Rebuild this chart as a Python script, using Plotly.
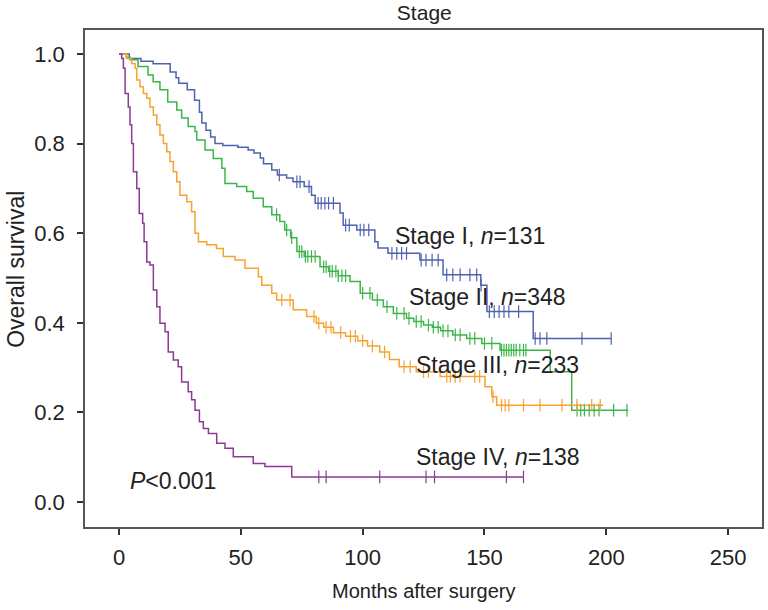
import plotly.graph_objects as go

# ---------------- data ----------------
stage1_t = [0, 4.2, 9, 14, 21, 23.4, 24.5, 28, 31, 33, 34, 35.7, 37.6, 39.4, 42.6, 48.8, 53, 55.4, 58,
            59.3, 62.7, 65, 68.8, 71.4, 76, 79, 80.5, 90.7, 92, 97.6, 105, 106.3, 110.4, 123.5, 133,
            148.5, 151, 170, 202]
stage1_s = [1.0, 0.99, 0.984, 0.978, 0.96, 0.947, 0.935, 0.92, 0.897, 0.87, 0.846, 0.83, 0.815, 0.80,
            0.796, 0.792, 0.786, 0.779, 0.768, 0.755, 0.741, 0.730, 0.723, 0.715, 0.704, 0.685, 0.667,
            0.645, 0.618, 0.607, 0.581, 0.567, 0.555, 0.540, 0.507, 0.484, 0.425, 0.365, 0.365]
stage1_c = [65.8, 73, 74.3, 78, 81.7, 83, 84.5, 86, 88, 93, 94.5, 99, 100.5, 102.5, 112, 114, 116, 118,
            124, 126, 128.5, 131, 134.5, 137, 140, 144, 146.8, 148.6, 152, 154, 156, 158, 160, 164,
            170.8, 172.8, 175.6, 190, 202]

stage2_t = [0, 3, 4.5, 7.8, 11.9, 14, 16.8, 20, 23.7, 25.7, 28.4, 31.2, 31.9, 35.3, 38.7, 42.2, 43.5,
            48.3, 52.4, 55.1, 59.2, 62.7, 66, 68, 70.5, 73, 76, 82.5, 86, 90, 94.8, 99, 104, 108.5,
            112.6, 118, 121, 125, 128.6, 132, 137, 142.7, 148.9, 156.4, 177, 185.8, 209]
stage2_s = [1.0, 0.993, 0.987, 0.972, 0.953, 0.938, 0.92, 0.893, 0.875, 0.857, 0.838, 0.827, 0.808,
            0.786, 0.767, 0.745, 0.711, 0.704, 0.693, 0.678, 0.659, 0.641, 0.626, 0.607, 0.59, 0.559,
            0.548, 0.525, 0.515, 0.505, 0.492, 0.466, 0.451, 0.436, 0.421, 0.41, 0.403, 0.395, 0.39,
            0.382, 0.373, 0.365, 0.354, 0.339, 0.291, 0.205, 0.205]
stage2_c = [64.7, 68.8, 70.9, 74, 75, 76.5, 77.5, 79, 80.5, 84, 85, 86.5, 87.5, 89, 90, 91.5, 93, 100,
            103, 106, 110, 114, 117, 119, 122, 124, 127, 129, 131, 133, 135, 138, 140, 144, 146, 150,
            153, 157, 158, 159, 160, 161, 162, 163, 164.5, 166, 167, 188, 189.5, 191, 193, 195, 197,
            203, 208.5]

stage3_t = [0, 3.1, 5.2, 6.6, 7.3, 8.6, 10, 11.4, 12.7, 14.1, 15.5, 16.8, 18.2, 19.6, 20.9, 22.3, 23.7,
            25, 27.8, 29.8, 31.2, 32.6, 36, 40, 42.8, 47.6, 51.7, 57.2, 58.6, 62.7, 64.7, 71.5, 77, 81,
            84, 88, 93, 98, 102, 107, 111, 115, 122, 131.8, 150.2, 153, 155, 198.7]
stage3_s = [1.0, 0.99, 0.979, 0.968, 0.942, 0.927, 0.912, 0.901, 0.882, 0.864, 0.842, 0.819, 0.80,
            0.782, 0.76, 0.737, 0.715, 0.685, 0.67, 0.648, 0.60, 0.581, 0.574, 0.566, 0.548, 0.54,
            0.522, 0.503, 0.484, 0.466, 0.451, 0.429, 0.414, 0.399, 0.39, 0.378, 0.37, 0.36, 0.348,
            0.335, 0.318, 0.302, 0.291, 0.28, 0.257, 0.235, 0.216, 0.216]
stage3_c = [66.8, 70.2, 80, 82, 85, 87, 91, 95, 97, 100, 104, 109, 117, 119.5, 125, 127, 134.5, 136,
            138, 140, 146, 148, 153.5, 157, 158.5, 160, 166, 172.8, 181.8, 187.9, 194, 197.5]

stage4_t = [0, 1.1, 1.8, 2.5, 3.8, 4.5, 5.2, 5.9, 7.3, 8.3, 9.7, 10.3, 11.4, 12.7, 14.1, 15.5, 16.8,
            18.9, 20.2, 22.3, 24.3, 25.7, 28.4, 29.8, 31.2, 33, 34.6, 36.7, 40.1, 43.5, 46.9, 55.1,
            59.9, 70.9, 166]
stage4_s = [1.0, 0.99, 0.968, 0.912, 0.882, 0.842, 0.8, 0.737, 0.70, 0.644, 0.622, 0.581, 0.536, 0.529,
            0.473, 0.436, 0.399, 0.38, 0.335, 0.317, 0.302, 0.268, 0.246, 0.228, 0.205, 0.179, 0.164,
            0.153, 0.131, 0.12, 0.101, 0.086, 0.079, 0.056, 0.056]
stage4_c = [82, 85, 107, 126, 129.5, 159, 166]

labels = ["Stage I, <i>n</i>=131", "Stage II, <i>n</i>=348", "Stage III, <i>n</i>=233", "Stage IV, <i>n</i>=138"]
label_x = [112.5, 118.0, 121.0, 121.0]
label_y = [0.594, 0.458, 0.306, 0.10]
colors = ["#4d63b0", "#3cb54a", "#f8a22f", "#8c3a95"]

x_ticks = [0, 50, 100, 150, 200, 250]
y_ticks = [0.0, 0.2, 0.4, 0.6, 0.8, 1.0]


def surv_at(ts, ss, t):
    v = ss[0]
    for ti, si in zip(ts, ss):
        if ti <= t:
            v = si
        else:
            break
    return v


fig = go.Figure()
series = [(stage1_t, stage1_s, stage1_c), (stage2_t, stage2_s, stage2_c),
          (stage3_t, stage3_s, stage3_c), (stage4_t, stage4_s, stage4_c)]
for (ts, ss, cs), col in zip(series, colors):
    fig.add_trace(go.Scatter(x=ts, y=ss, mode="lines", line=dict(color=col, width=1.5, shape="hv"),
                             showlegend=False, hoverinfo="skip"))
    fig.add_trace(go.Scatter(x=cs, y=[surv_at(ts, ss, c) for c in cs], mode="markers",
                             marker=dict(symbol="line-ns-open", size=9, color=col,
                                         line=dict(color=col, width=1.2)),
                             showlegend=False, hoverinfo="skip"))

font_fam = "Liberation Sans, Arial, Helvetica, sans-serif"
for txt, lx, ly in zip(labels, label_x, label_y):
    fig.add_annotation(x=lx, y=ly, text=txt, showarrow=False, xanchor="left", yanchor="middle",
                       font=dict(size=23, color="#222", family=font_fam))
fig.add_annotation(x=3.5, y=0.047, text="<i>P</i><0.001", showarrow=False, xanchor="left",
                   yanchor="middle", font=dict(size=23, color="#222", family=font_fam))

# axis titles as annotations (paper coordinates relative to the plot area)
fig.add_annotation(xref="paper", yref="paper", x=0.5, y=-0.128, text="Months after surgery",
                   showarrow=False, xanchor="center", yanchor="middle",
                   font=dict(size=20, color="#222", family=font_fam))
fig.add_annotation(xref="paper", yref="paper", x=-0.103, y=0.518, text="Overall survival",
                   showarrow=False, xanchor="center", yanchor="middle", textangle=-90,
                   font=dict(size=23, color="#222", family=font_fam))

fig.update_layout(
    width=768, height=610,
    margin=dict(l=85, r=6, t=30, b=83),
    paper_bgcolor="white", plot_bgcolor="white",
    font=dict(family=font_fam, color="#222"),
    title=dict(text="Stage", x=0.5525, xanchor="center", y=1 - 13 / 610, yanchor="middle",
               font=dict(size=21, family=font_fam, color="#222")),
)
fig.update_xaxes(range=[-13.96, 263.9], tickvals=x_ticks, ticks="outside", ticklen=6, tickwidth=1.5,
                 tickcolor="#333", showline=True, linecolor="#555", linewidth=1.5, mirror=True,
                 showgrid=False, zeroline=False, tickfont=dict(size=22), ticklabelstandoff=4,
                 automargin=False)
fig.update_yaxes(range=[-0.0558, 1.0536], tickvals=y_ticks, tickformat=".1f", ticks="outside",
                 ticklen=6, tickwidth=1.5, tickcolor="#333", showline=True, linecolor="#555",
                 linewidth=1.5, mirror=True, showgrid=False, zeroline=False, tickfont=dict(size=22),
                 ticklabelstandoff=8, automargin=False)

fig.write_html("out.html", config={"displayModeBar": False},
               post_script="document.body.style.margin='0';")
